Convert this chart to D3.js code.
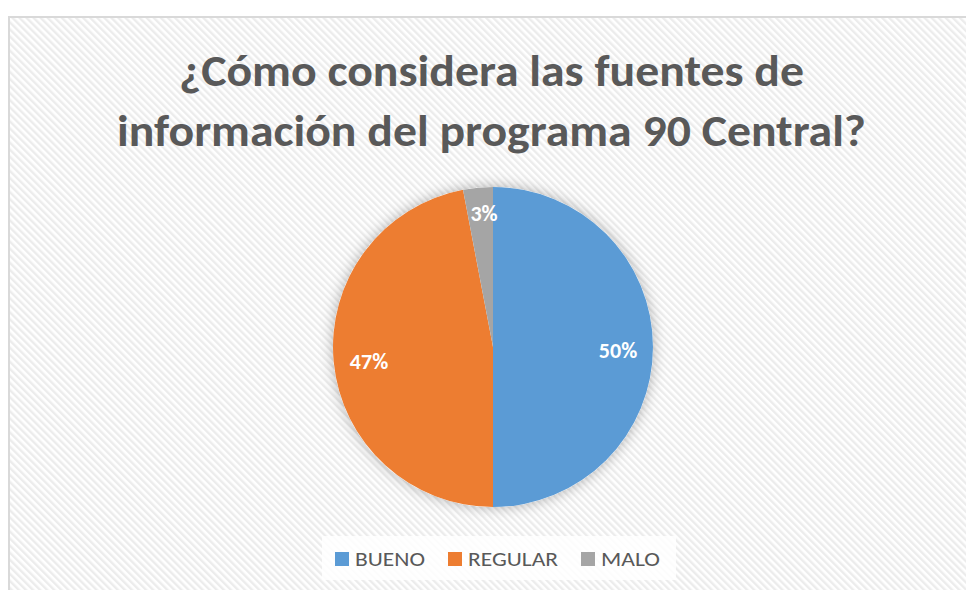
<!DOCTYPE html>
<html><head><meta charset="utf-8">
<script src="https://cdn.jsdelivr.net/npm/d3@7"></script>
<style>html,body{margin:0;padding:0;background:#fff;}svg{display:block;}</style>
</head><body>
<script>
const categories = ["BUENO", "REGULAR", "MALO"];
const values = [50, 47, 3];
const labels = ["50%", "47%", "3%"];
const colors = ["#5B9BD5", "#ED7D31", "#A5A5A5"];
const titleLines = ["¿Cómo considera las fuentes de", "información del programa 90 Central?"];

const W = 966, H = 590;
const svg = d3.select("body").append("svg").attr("width", W).attr("height", H);
const defs = svg.append("defs");
const pat = defs.append("pattern").attr("id", "stripes").attr("patternUnits", "userSpaceOnUse")
  .attr("width", 5).attr("height", 5).attr("patternTransform", "rotate(-45)");
pat.append("rect").attr("width", 5).attr("height", 5).attr("fill", "#ffffff");
pat.append("rect").attr("width", 2.4).attr("height", 5).attr("fill", "#ececec");
const f = defs.append("filter").attr("id", "shadow").attr("x", "-30%").attr("y", "-30%").attr("width", "160%").attr("height", "160%");
f.append("feDropShadow").attr("dx", 0).attr("dy", 0).attr("stdDeviation", 7).attr("flood-color", "#000").attr("flood-opacity", 0.3);

svg.append("rect").attr("x", 9).attr("y", 17).attr("width", W).attr("height", H).attr("fill", "url(#stripes)")
  .attr("stroke", "#d9d9d9").attr("stroke-width", 2);

const titleFont = "Calibri, Lato, 'Open Sans', sans-serif";
const tw = [625, 749];
titleLines.forEach((t, i) => {
  svg.append("text").attr("x", 491.5).attr("y", 86 + i * 60).attr("text-anchor", "middle")
    .attr("font-family", titleFont).attr("font-weight", "bold").attr("font-size", 45)
    .attr("fill", "#595959").attr("textLength", tw[i]).attr("lengthAdjust", "spacingAndGlyphs").text(t);
});

const cx = 493, cy = 347, r = 160;
const pie = d3.pie().sort(null).value(d => d)(values);
const arc = d3.arc().innerRadius(0).outerRadius(r);
const g = svg.append("g").attr("transform", `translate(${cx},${cy})`);
g.append("circle").attr("r", r).attr("fill", "#fff").attr("filter", "url(#shadow)");
g.selectAll("path").data(pie).join("path").attr("d", arc).attr("fill", (d, i) => colors[i]);
const labelPos = [[125, 3], [-124, 14], [-9, -134]];
g.selectAll("text.lbl").data(pie).join("text").attr("class", "lbl")
  .attr("transform", (d, i) => `translate(${labelPos[i][0]},${labelPos[i][1]})`)
  .attr("text-anchor", "middle").attr("dy", "0.36em")
  .attr("font-family", titleFont).attr("font-weight", "bold").attr("font-size", 22)
  .attr("fill", "#fff").text((d, i) => labels[i]);

// legend
svg.append("rect").attr("x", 322).attr("y", 536).attr("width", 354).attr("height", 44).attr("fill", "#fff").attr("opacity", 0.85);
const legX = [335, 448, 581];
const legW = [70, 90, 59];
categories.forEach((c, i) => {
  svg.append("rect").attr("x", legX[i]).attr("y", 552).attr("width", 14).attr("height", 14).attr("fill", colors[i]);
  svg.append("text").attr("x", legX[i] + 20).attr("y", 566).attr("font-family", titleFont).attr("font-size", 21)
    .attr("fill", "#595959").attr("textLength", legW[i]).attr("lengthAdjust", "spacingAndGlyphs").text(c);
});
</script>
</body></html>
